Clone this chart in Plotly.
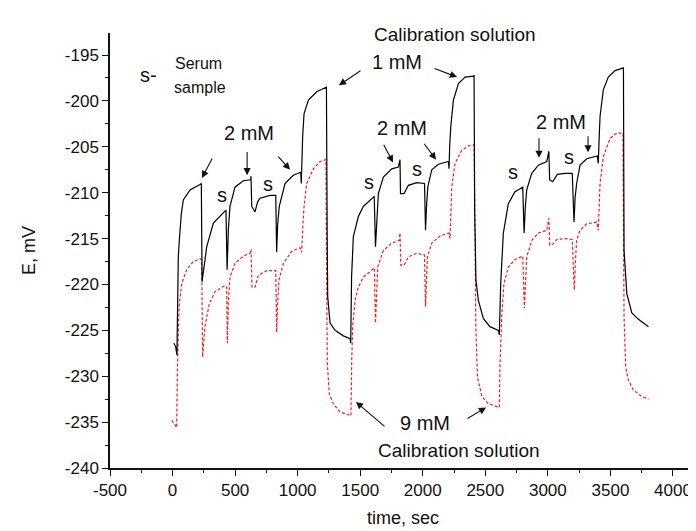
import plotly.graph_objects as go

# ---- data (time in s, potential in mV) ----
black_t = [11, 25, 35, 40, 46, 54, 70, 86, 140, 219, 230, 236, 250, 273, 326, 406, 427, 436, 446, 459, 499, 566, 625, 627,
           633, 659, 680, 699, 779, 825, 832, 840, 853, 899, 965, 1019, 1025, 1029, 1034, 1040, 1051, 1086, 1152, 1219, 1230,
           1236, 1240, 1259, 1299, 1365, 1419, 1424,
           1431, 1445, 1485, 1525, 1592, 1612, 1622, 1632, 1645, 1685, 1752, 1805, 1818, 1822, 1850, 1885, 1951, 2014, 2022,
           2030, 2040, 2072, 2125, 2205, 2210, 2215, 2224, 2245, 2285, 2338, 2404, 2410,
           2415, 2425, 2444, 2484, 2537, 2604, 2612,
           2623, 2644, 2684, 2737, 2799, 2810, 2820, 2831, 2871, 2924, 2991, 3008, 3014, 3039, 3076, 3137, 3195, 3209, 3218,
           3230, 3257, 3310, 3395, 3403, 3410, 3417, 3443, 3483, 3537, 3598, 3604,
           3609, 3631, 3671, 3724, 3804]
black_E = [-226.4, -226.8, -227.7, -222, -217, -215.2, -212.3, -210.8, -209.7, -209.1, -209.0, -219.7, -218.0, -215.9, -213.3,
           -212.1, -211.9, -218.4, -214.0, -211.5, -209.4, -208.7, -208.6, -208.2,
           -211.5, -212.1, -211.0, -210.6, -210.3, -210.3, -216.5, -213.5, -211.5, -209.0, -208.1, -207.8, -207.8, -209.0,
           -206.0, -203.9, -201.4, -199.9, -199.0, -198.6, -198.5,
           -215, -221.3, -224.2, -225.0, -225.6, -225.9, -226.4,
           -219.2, -214.8, -212.6, -211.5, -210.6, -210.4, -215.9, -212.5, -210.1, -208.3, -207.4, -207.2, -206.4, -210.1,
           -210.1, -209.2, -208.9, -209.0, -214.1,
           -211.5, -209.4, -207.5, -206.9, -206.6, -207.4, -205, -202.8, -199.9, -198.1, -197.4, -197.3, -197.2,
           -212, -219.5, -221.7, -223.7, -224.6, -225.0, -225.5,
           -219.9, -214.4, -211.2, -209.9, -209.4, -214.4, -211.5, -209.7, -207.9, -207.0, -206.6, -205.5, -208.6, -208.8,
           -208.0, -207.9, -207.9, -213.2, -210.5,
           -209.0, -207.0, -206.3, -206.0, -206.8, -204, -201.7, -198.8, -197.4, -196.7, -196.5, -196.4,
           -216.3, -221.0, -223.1, -223.8, -224.6]

red_t = [-5, 6, 20, 33, 38, 45, 52, 73, 113, 166, 219, 233, 240, 259, 294, 339, 419, 433, 438, 446, 459, 499, 566, 619, 627,
         635, 659, 686, 752, 825, 832, 840, 851, 886, 952, 1019, 1032, 1042, 1051, 1072, 1126, 1179, 1226,
         1232, 1237, 1253, 1285, 1339, 1419, 1426,
         1432, 1440, 1459, 1485, 1525, 1592, 1613, 1622, 1630, 1640, 1685, 1752, 1813, 1818, 1824, 1850, 1885, 1951, 2014,
         2022, 2030, 2037, 2072, 2139, 2210, 2218, 2225, 2232, 2258, 2311, 2365, 2410,
         2418, 2424, 2437, 2472, 2525, 2592, 2612,
         2617, 2631, 2649, 2684, 2737, 2799, 2812, 2820, 2831, 2871, 2924, 2991, 3008, 3015, 3039, 3071, 3137, 3195, 3211,
         3220, 3230, 3257, 3310, 3390, 3403, 3410, 3417, 3443, 3497, 3550, 3600,
         3609, 3622, 3643, 3683, 3750, 3804]
red_E = [-234.8, -235.1, -235.3, -235.6, -229.7, -225, -222.4, -219.9, -218.4, -217.5, -217.2, -217.3, -227.9, -224.6, -222.1,
         -220.8, -220.1, -220.3, -226.4, -222, -219.2, -217.7, -216.9, -216.6, -216.2,
         -220.3, -220.3, -219.0, -218.5, -218.5, -225.2, -222, -219.5, -217.7, -216.4, -216.0, -216.5, -213.5, -211.5,
         -209.0, -207.4, -206.6, -206.4,
         -220, -228.6, -231.9, -233.0, -233.9, -234.2, -234.3,
         -228.2, -224.6, -221.7, -220.3, -219.2, -218.4, -218.2, -224.2, -220.5, -218.1, -216.3, -215.5, -215.2, -214.4,
         -217.9, -217.9, -217.0, -216.6, -216.8,
         -222.4, -219.5, -217.0, -215.5, -214.7, -214.4, -215.0, -212, -209.4, -206.8, -205.4, -204.9, -204.8,
         -215, -224.6, -230.1, -232.2, -233.0, -233.3, -233.4,
         -229.0, -223.5, -219.9, -218.1, -217.3, -216.9, -222.6, -219.5, -217.0, -215.2, -214.4, -214.1, -212.8, -215.7,
         -215.6, -215.1, -215.0, -215.1, -220.6,
         -217.5, -215.2, -214.1, -213.4, -213.2, -214.1, -211.5, -209.0, -206.1, -204.1, -203.5, -203.5,
         -223.5, -229.0, -230.4, -231.5, -232.2, -232.5]

x_ticks = [-500, 0, 500, 1000, 1500, 2000, 2500, 3000, 3500, 4000]
y_ticks = [-240, -235, -230, -225, -220, -215, -210, -205, -200, -195]

FONT = "Arial, Liberation Sans, sans-serif"

fig = go.Figure()
fig.add_trace(go.Scatter(x=red_t, y=red_E, mode="lines",
                         line=dict(color="#ff1a1a", width=1.2, dash="3px,2px"), showlegend=False))
fig.add_trace(go.Scatter(x=black_t, y=black_E, mode="lines",
                         line=dict(color="black", width=1.2), showlegend=False))

# text labels (inside the axes)
texts = [
    ("1 mM", 1794, -195.8, 20),
    ("s-", -189, -197.2, 20),
    ("Serum", 204, -195.9, 16),
    ("sample", 220, -198.5, 16),
    ("2 mM", 613, -203.5, 20),
    ("s", 397, -210.3, 20),
    ("s", 764, -209.0, 20),
    ("2 mM", 1834, -202.9, 20),
    ("s", 1571, -208.8, 20),
    ("s", 1954, -207.4, 20),
    ("2 mM", 3105, -202.3, 20),
    ("s", 2722, -207.8, 20),
    ("s", 3169, -206.1, 20),
    ("9 mM", 2018, -235.1, 20),
    ("Calibration solution", 2290, -238.1, 19),
]
for txt, x, y, sz in texts:
    fig.add_annotation(x=x, y=y, xref="x", yref="y", text=txt, showarrow=False,
                       font=dict(family=FONT, size=sz, color="#111"))

# label above the plotting area
fig.add_annotation(x=2258, y=1.025, xref="x", yref="paper", text="Calibration solution",
                   showarrow=False, font=dict(family=FONT, size=19, color="#111"))

# arrows: (tail_x, tail_y, tip_x, tip_y)
arrows = [
    (1514, -196.6, 1330, -198.3),
    (2082, -196.4, 2274, -197.4),
    (323, -206.1, 235, -208.4),
    (596, -205.4, 596, -208.1),
    (835, -205.9, 939, -207.5),
    (1682, -204.6, 1762, -206.7),
    (2002, -204.5, 2106, -206.4),
    (2929, -203.9, 2929, -206.2),
    (3321, -203.7, 3321, -205.6),
    (1706, -235.6, 1466, -232.8),
    (2346, -234.7, 2506, -233.4),
]
for ax, ay, x, y in arrows:
    fig.add_annotation(x=x, y=y, ax=ax, ay=ay, xref="x", yref="y", axref="x", ayref="y",
                       text="", showarrow=True, arrowhead=2, arrowsize=1.3, arrowwidth=1.1,
                       arrowcolor="#111")

# page body has an 8px margin, so the figure is 8px smaller and margins compensate
fig.update_layout(
    width=688, height=523,
    margin=dict(l=102, r=0, t=25, b=63),
    paper_bgcolor="white", plot_bgcolor="white",
    font=dict(family=FONT, size=17, color="#111"),
    xaxis=dict(range=[-500, 4184], tickvals=x_ticks, ticktext=[str(v) for v in x_ticks],
               showgrid=False, zeroline=False, showline=True, linecolor="#111", linewidth=1.5,
               ticks="outside", ticklen=6, tickwidth=1.3, tickcolor="#111",
               minor=dict(ticks="outside", ticklen=3, dtick=250, tick0=-500, tickcolor="#111", tickwidth=1.2),
               title=dict(text="time, sec", standoff=12, font=dict(size=18))),
    yaxis=dict(range=[-240, -192.6], tickvals=y_ticks, ticktext=[str(v) for v in y_ticks],
               showgrid=False, zeroline=False, showline=True, linecolor="#111", linewidth=1.5,
               ticks="outside", ticklen=6, tickwidth=1.3, tickcolor="#111",
               minor=dict(ticks="outside", ticklen=3, dtick=2.5, tick0=-240, tickcolor="#111", tickwidth=1.2),
               title=dict(text="E, mV", standoff=25, font=dict(size=18))),
)

fig.write_html("out.html")
